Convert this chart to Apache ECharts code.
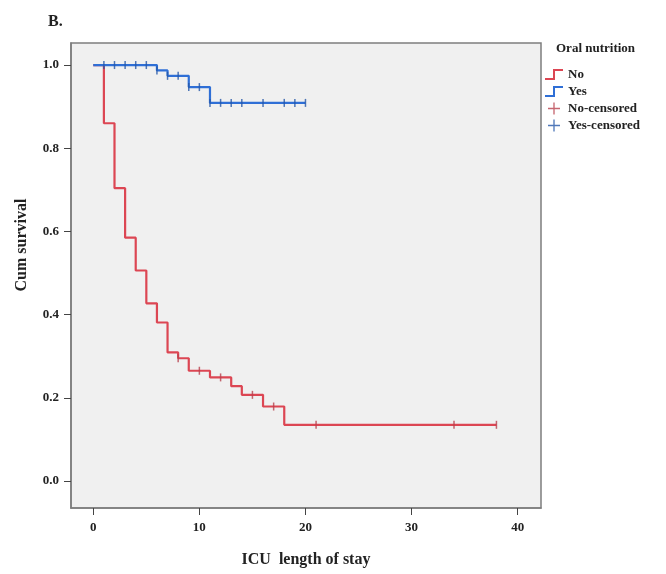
<!DOCTYPE html>
<html lang="en">
  <head>
    <meta charset="UTF-8" />
    <title>Kaplan-Meier: Oral nutrition</title>
    <script src="https://cdn.jsdelivr.net/npm/echarts@6/dist/echarts.min.js"></script>
    <style>
      body { margin: 0; background: #fff; }
    </style>
  </head>
  <body>
    <div id="chart" style="width: 666px; height: 574px"></div>
    <script>
      // survival steps (time, cumulative survival)
      const noTimes = [0, 1, 2, 3, 4, 5, 6, 7, 8, 9, 11, 13, 14, 16, 18, 38];
      const noSurv = [1, 0.86, 0.704, 0.585, 0.506, 0.427, 0.381, 0.309, 0.295, 0.265, 0.249, 0.228, 0.207, 0.179, 0.135, 0.135];
      const yesTimes = [0, 6, 7, 9, 11, 20];
      const yesSurv = [1, 0.987, 0.974, 0.947, 0.909, 0.909];

      // censored observations
      const noCensTimes = [8, 10, 12, 15, 17, 21, 34, 38];
      const noCensSurv = [0.295, 0.265, 0.249, 0.207, 0.179, 0.135, 0.135, 0.135];
      const yesCensTimes = [1, 2, 3, 4, 5, 6, 7, 8, 9, 10, 11, 12, 13, 14, 16, 18, 19, 20];
      const yesCensSurv = [1, 1, 1, 1, 1, 0.987, 0.974, 0.974, 0.947, 0.947, 0.909, 0.909, 0.909, 0.909, 0.909, 0.909, 0.909, 0.909];

      const xTicks = [0, 10, 20, 30, 40];
      const yTicks = [0, 0.2, 0.4, 0.6, 0.8, 1.0];

      const zip = (a, b) => a.map((v, i) => [v, b[i]]);

      const font = "Liberation Serif";
      const red = "#dc4653";
      const blue = "#2f6fd6";
      const stepIcon = "path://M0,9H8V0H18V2H10V11H0Z";
      const crossIcon = "path://M8,0H10V8H18V10H10V18H8V10H0V8H8Z";

      const chart = echarts.init(document.getElementById("chart"));

      const option = {
        animation: false,
        backgroundColor: "#fff",
        textStyle: { fontFamily: font },
        grid: {
          left: 71,
          right: 125,
          top: 43,
          bottom: 66,
          show: true,
          backgroundColor: "#f0f0f0",
          borderColor: "#7d7d7d",
          borderWidth: 1.5,
        },
        graphic: [
          {
            type: "text",
            left: 48,
            top: 14,
            style: { text: "B.", font: "bold 16px " + font, fill: "#222" },
          },
          {
            type: "text",
            x: 22,
            y: 245,
            rotation: Math.PI / 2,
            style: {
              text: "Cum survival",
              font: "bold 16px " + font,
              fill: "#222",
              align: "center",
              verticalAlign: "middle",
            },
          },
          {
            type: "text",
            left: 556,
            top: 42,
            style: { text: "Oral nutrition", font: "bold 13px " + font, fill: "#222" },
          },
        ],
        legend: {
          orient: "vertical",
          left: 540,
          top: 63,
          itemGap: 4,
          itemWidth: 18,
          itemHeight: 12,
          textStyle: { fontFamily: font, fontWeight: "bold", fontSize: 13, color: "#222" },
          data: [
            { name: "No", icon: stepIcon },
            { name: "Yes", icon: stepIcon },
            { name: "No-censored", icon: crossIcon },
            { name: "Yes-censored", icon: crossIcon },
          ],
        },
        xAxis: {
          type: "value",
          min: -2.1,
          max: 42.2,
          name: "ICU  length of stay",
          nameLocation: "middle",
          nameGap: 44,
          nameTextStyle: { fontFamily: font, fontWeight: "bold", fontSize: 16, color: "#222" },
          splitLine: { show: false },
          axisLine: { show: true, onZero: false, lineStyle: { color: "#7d7d7d", width: 1.5 } },
          axisTick: { show: true, length: 7, customValues: xTicks, lineStyle: { color: "#444" } },
          axisLabel: {
            customValues: xTicks,
            margin: 13,
            fontFamily: font,
            fontWeight: "bold",
            fontSize: 13,
            color: "#222",
          },
        },
        yAxis: {
          type: "value",
          min: -0.065,
          max: 1.053,
          splitLine: { show: false },
          axisLine: { show: true, onZero: false, lineStyle: { color: "#7d7d7d", width: 1.5 } },
          axisTick: { show: true, length: 7, customValues: yTicks, lineStyle: { color: "#444" } },
          axisLabel: {
            customValues: yTicks,
            margin: 12,
            fontFamily: font,
            fontWeight: "bold",
            fontSize: 13,
            color: "#222",
            formatter: (v) => v.toFixed(1),
          },
        },
        series: [
          {
            name: "No",
            type: "line",
            step: "end",
            showSymbol: false,
            symbol: "none",
            color: red,
            lineStyle: { width: 2.2, color: red },
            data: zip(noTimes, noSurv),
            z: 2,
          },
          {
            name: "Yes",
            type: "line",
            step: "end",
            showSymbol: false,
            symbol: "none",
            color: blue,
            lineStyle: { width: 2.2, color: blue },
            data: zip(yesTimes, yesSurv),
            z: 3,
          },
          {
            name: "No-censored",
            type: "scatter",
            symbol: "rect",
            symbolSize: [1.5, 8],
            color: "#b8404c",
            itemStyle: { color: "#b8404c" },
            data: zip(noCensTimes, noCensSurv),
            z: 4,
          },
          {
            name: "Yes-censored",
            type: "scatter",
            symbol: "rect",
            symbolSize: [1.5, 8],
            color: "#2456a8",
            itemStyle: { color: "#2456a8" },
            data: zip(yesCensTimes, yesCensSurv),
            z: 5,
          },
        ],
      };

      chart.setOption(option);
    </script>
  </body>
</html>
